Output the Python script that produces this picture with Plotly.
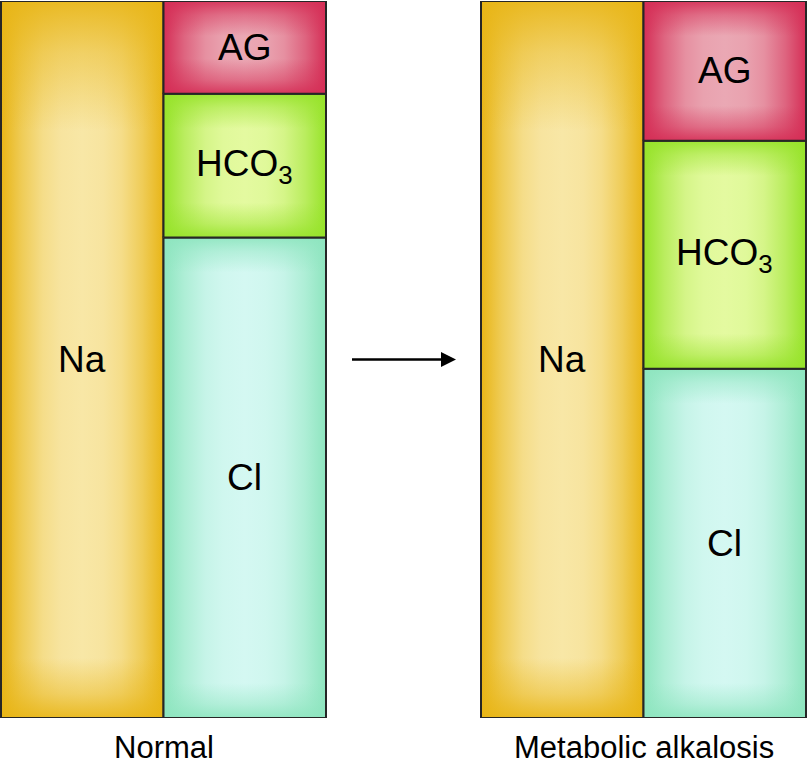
import plotly.graph_objects as go

# ---- data (mEq/L) ----
groups = ["Normal", "Metabolic alkalosis"]
na = [140, 140]
ag = [18.1, 27.3]
hco3 = [28.1, 44.5]
cl = [93.8, 68.2]

# ---- style ----
FONT = "Liberation Sans, Arial, Helvetica, sans-serif"
BORDER = "#262626"
COLORS = {
    "Na": ("#E8B516", "#F8E7A6"),
    "AG": ("#D52E56", "#EAA8B4"),
    "HCO3": ("#97E32A", "#E4FAA0"),
    "Cl": ("#8EE5BF", "#D4F8F2"),
}
LABELS = {"Na": "Na", "AG": "AG", "HCO3": "HCO<sub>3</sub>", "Cl": "Cl"}

W_PX, H_PX = 808, 768
M_T, M_B = 1, 50
PLOT_H = H_PX - M_T - M_B
YMAX = 140
PX_PER_Y = PLOT_H / YMAX
BAR_W = 162.5
group_left = [1, 481]


def hex2rgb(h):
    h = h.lstrip("#")
    return tuple(int(h[i:i + 2], 16) for i in (0, 2, 4))


def blend(c1, c2, t):
    a, b = hex2rgb(c1), hex2rgb(c2)
    r = [round(a[i] + (b[i] - a[i]) * t) for i in range(3)]
    return f"rgb({r[0]},{r[1]},{r[2]})"


def hscale(edge, light, wpx):
    g = min(0.45, 60 / wpx)
    return [
        [0.0, blend(edge, light, 0.0)],
        [g * 0.35, blend(edge, light, 0.45)],
        [g * 0.7, blend(edge, light, 0.8)],
        [g, blend(edge, light, 0.95)],
        [0.5, blend(edge, light, 1.0)],
        [1 - g, blend(edge, light, 0.95)],
        [1 - g * 0.7, blend(edge, light, 0.8)],
        [1 - g * 0.35, blend(edge, light, 0.45)],
        [1.0, blend(edge, light, 0.0)],
    ]


def vscale(edge, hpx, top_px=60, bot_px=60):
    r, g_, b = hex2rgb(edge)
    tb = min(0.45, bot_px / hpx)
    tt = min(0.45, top_px / hpx)
    return [
        [0.0, f"rgba({r},{g_},{b},0.9)"],
        [tb * 0.4, f"rgba({r},{g_},{b},0.45)"],
        [tb, f"rgba({r},{g_},{b},0.0)"],
        [1 - tt, f"rgba({r},{g_},{b},0.0)"],
        [1 - tt * 0.4, f"rgba({r},{g_},{b},0.45)"],
        [1.0, f"rgba({r},{g_},{b},0.9)"],
    ]


fig = go.Figure()
annotations = []

for gi, g in enumerate(groups):
    x0 = group_left[gi]
    segs = [
        ("Na", x0, x0 + BAR_W, 0, na[gi]),
        ("Cl", x0 + BAR_W, x0 + 2 * BAR_W, 0, cl[gi]),
        ("HCO3", x0 + BAR_W, x0 + 2 * BAR_W, cl[gi], cl[gi] + hco3[gi]),
        ("AG", x0 + BAR_W, x0 + 2 * BAR_W, cl[gi] + hco3[gi], cl[gi] + hco3[gi] + ag[gi]),
    ]
    for name, xa, xb, ya, yb in segs:
        edge, light = COLORS[name]
        xs = [xa, xb, xb, xa, xa]
        ys = [ya, ya, yb, yb, ya]
        hpx = (yb - ya) * PX_PER_Y
        wpx = xb - xa
        fig.add_trace(go.Scatter(
            x=xs, y=ys, mode="lines", fill="toself",
            line=dict(width=0, color="rgba(0,0,0,0)"),
            fillgradient=dict(type="horizontal", colorscale=hscale(edge, light, wpx)),
            hoverinfo="skip", showlegend=False,
        ))
        fig.add_trace(go.Scatter(
            x=xs, y=ys, mode="lines", fill="toself",
            line=dict(width=2, color=BORDER),
            fillgradient=dict(type="vertical", colorscale=vscale(edge, hpx, 130 if name == "Na" else 35, 60 if name == "Na" else 35)),
            hoverinfo="skip", showlegend=False,
        ))
        annotations.append(dict(
            x=(xa + xb) / 2, y=(ya + yb) / 2, xref="x", yref="y",
            text=LABELS[name], showarrow=False,
            font=dict(family=FONT, size=37, color="black"),
        ))
    annotations.append(dict(
        x=x0 + BAR_W, y=0, xref="x", yref="paper", yanchor="top", yshift=-10,
        text=g, showarrow=False,
        font=dict(family=FONT, size=31, color="black"),
    ))

# transition arrow between the two states
annotations.append(dict(
    x=456, y=na[0] / 2, ax=349, ay=na[0] / 2, xref="x", yref="y", axref="x", ayref="y",
    text=" ", showarrow=True, arrowhead=2, arrowsize=1.2, arrowwidth=2.5, arrowcolor="black",
))

fig.update_layout(
    width=W_PX, height=H_PX,
    margin=dict(l=0, r=0, t=M_T, b=M_B),
    paper_bgcolor="white", plot_bgcolor="white",
    xaxis=dict(range=[0, 808], visible=False, fixedrange=True),
    yaxis=dict(range=[0, YMAX], visible=False, fixedrange=True),
    annotations=annotations,
    showlegend=False,
)

fig.write_html(
    "out.html",
    config={"displayModeBar": False},
    post_script="document.body.style.margin='0';document.body.style.overflow='hidden';",
)
